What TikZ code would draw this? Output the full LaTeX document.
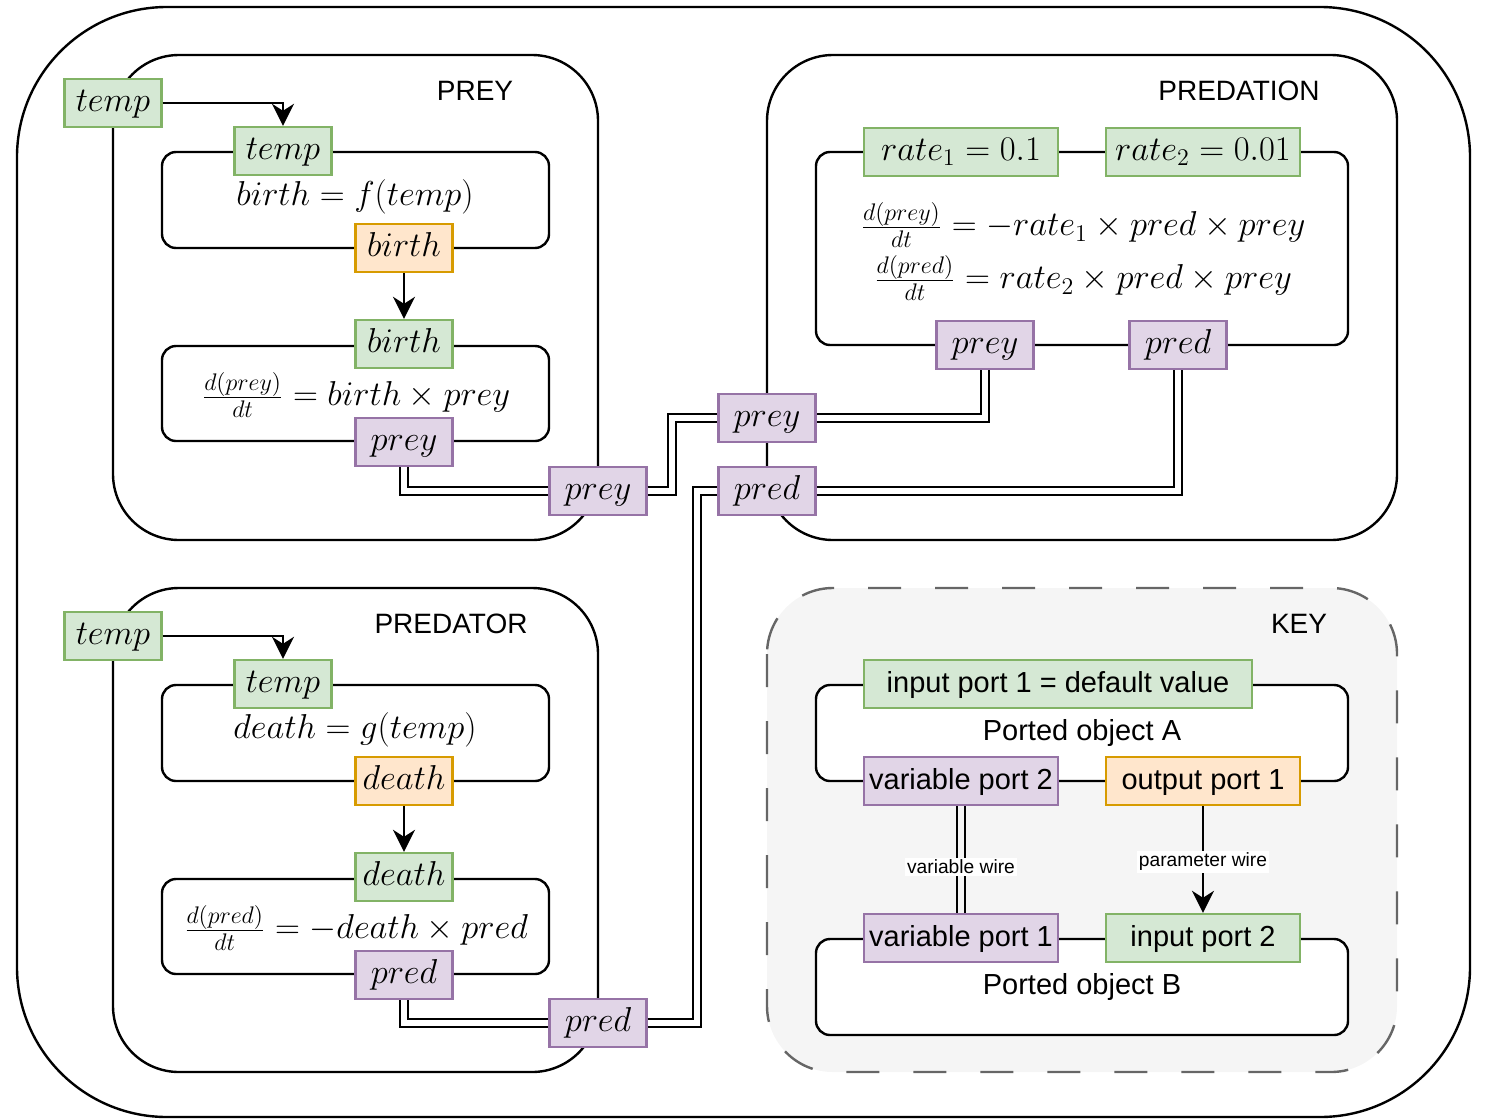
\documentclass[tikz,border=0pt]{standalone}
\usepackage{fontspec}
\newfontfamily\labelfont{Liberation Sans}
\usetikzlibrary{arrows.meta}

\definecolor{inFill}{HTML}{D5E8D4}
\definecolor{inDraw}{HTML}{82B366}
\definecolor{outFill}{HTML}{FFE6CC}
\definecolor{outDraw}{HTML}{D79B00}
\definecolor{varFill}{HTML}{E1D5E7}
\definecolor{varDraw}{HTML}{9673A6}
\definecolor{keyFill}{HTML}{F5F5F5}
\definecolor{keyDraw}{HTML}{666666}

\tikzset{
  port/.style={draw, line width=1.2pt, minimum width=48.5pt, minimum height=24pt,
    inner sep=0pt, text height=10.5pt, text depth=2pt, font=\fontsize{17.3}{20}\selectfont},
  inport/.style={port, draw=inDraw, fill=inFill},
  outport/.style={port, draw=outDraw, fill=outFill},
  varport/.style={port, draw=varDraw, fill=varFill},
  wideport/.style={minimum width=97pt},
  keyport/.style={font=\labelfont\fontsize{14.5}{17}\selectfont},
  module/.style={draw, line width=1.2pt, rounded corners=33pt},
  object/.style={draw, line width=1.2pt, rounded corners=7pt, fill=white},
  keybox/.style={draw=keyDraw, fill=keyFill, line width=1.2pt, rounded corners=33pt,
    dash pattern=on 16.5pt off 17pt},
  title/.style={font=\labelfont\fontsize{14}{17}\selectfont},
  eq/.style={font=\fontsize{17.3}{20}\selectfont},
  param/.style={line width=1.1pt, -{Stealth[length=11pt, width=11pt, inset=3.5pt]}},
  wire/.style={line width=1.1pt, double, double distance=3pt},
  wirelabel/.style={fill=white, inner sep=1pt, font=\labelfont\fontsize{9.6}{11}\selectfont},
}

\begin{document}
\begin{tikzpicture}[x=0.5pt, y=-0.5pt]
\useasboundingbox (0,0) rectangle (1486,1119);

\draw[line width=1.2pt, rounded corners=75pt] (17,7) rectangle (1470,1117);

\draw[module] (113,55) rectangle (598,540);
\draw[module] (767,55) rectangle (1397,540);
\draw[module] (113,588) rectangle (598,1072);
\draw[keybox] (767,588) rectangle (1397,1072);

\node[title] (preyTitle) at (475,91) {PREY};
\node[title] (predationTitle) at (1239,91) {PREDATION};
\node[title] (predatorTitle) at (451,624) {PREDATOR};
\node[title] (keyTitle) at (1299,624) {KEY};

% prey
\draw[object] (162,152) rectangle (549,248);
\draw[object] (162,346) rectangle (549,441);
\node[eq] (birthEq) at (355,197) {$birth = f(temp)$};
\node[eq] (preyEq) at (356,395) {$\frac{d(prey)}{dt} = birth \times prey$};
\node[inport] (preyTempIn) at (113,103) {$temp$};
\node[inport] (preyTemp) at (283,151) {$temp$};
\node[outport] (preyBirthOut) at (404,248) {$birth$};
\node[inport] (preyBirthIn) at (404,344) {$birth$};
\node[varport] (preyPrey) at (404,442) {$prey$};
\node[varport] (preyB) at (598,491) {$prey$};

% predation
\draw[object] (816,152) rectangle (1348,345);
\node[eq] (predationEqA) at (1083,225) {$\frac{d(prey)}{dt} = -rate_1 \times pred \times prey$};
\node[eq] (predationEqB) at (1083,278) {$\frac{d(pred)}{dt} = rate_2 \times pred \times prey$};
\node[inport, wideport] (rateA) at (961,152) {$rate_1 = 0.1$};
\node[inport, wideport] (rateB) at (1203,152) {$rate_2 = 0.01$};
\node[varport] (predationPrey) at (985,345) {$prey$};
\node[varport] (predationPred) at (1178,345) {$pred$};
\node[varport] (predationPreyB) at (767,418) {$prey$};
\node[varport] (predationPredB) at (767,491) {$pred$};

% predator
\draw[object] (162,685) rectangle (549,781);
\draw[object] (162,879) rectangle (549,974);
\node[eq] (deathEq) at (355,730) {$death = g(temp)$};
\node[eq] (predEq) at (356,928) {$\frac{d(pred)}{dt} = -death \times pred$};
\node[inport] (predTempIn) at (113,636) {$temp$};
\node[inport] (predTemp) at (283,684) {$temp$};
\node[outport] (predDeathOut) at (404,781) {$death$};
\node[inport] (predDeathIn) at (404,877) {$death$};
\node[varport] (predPred) at (404,975) {$pred$};
\node[varport] (predB) at (598,1023) {$pred$};

% key
\draw[object] (816,685) rectangle (1348,781);
\draw[object] (816,939) rectangle (1348,1035);
\node[keyport] (objA) at (1082,733) {Ported object A};
\node[keyport] (objB) at (1082,987) {Ported object B};
\node[inport, keyport, minimum width=194pt] (keyInA) at (1058,684) {input port 1 = default value};
\node[varport, keyport, wideport] (keyVarB) at (961,781) {variable port 2};
\node[outport, keyport, wideport] (keyOutA) at (1203,781) {output port 1};
\node[varport, keyport, wideport] (keyVarA) at (961,938) {variable port 1};
\node[inport, keyport, wideport] (keyInB) at (1203,938) {input port 2};

\draw[param] (preyTempIn.east) -| (preyTemp.north);
\draw[param] (preyBirthOut) -- (preyBirthIn);
\draw[param] (predTempIn.east) -| (predTemp.north);
\draw[param] (predDeathOut) -- (predDeathIn);

\draw[wire] (preyPrey.south) |- (preyB.west);
\draw[wire] (preyB.east) -- ++(24,0) |- (predationPreyB.west);
\draw[wire] (predationPrey.south) |- (predationPreyB.east);
\draw[wire] (predationPred.south) |- (predationPredB.east);
\draw[wire] (predPred.south) |- (predB.west);
\draw[wire] (predB.east) -- ++(49,0) |- (predationPredB.west);

\draw[wire, double=keyFill] (keyVarB) -- node[wirelabel, pos=0.57] {variable wire} (keyVarA);
\draw[param] (keyOutA) -- node[wirelabel, pos=0.52] {parameter wire} (keyInB);

\end{tikzpicture}
\end{document}
